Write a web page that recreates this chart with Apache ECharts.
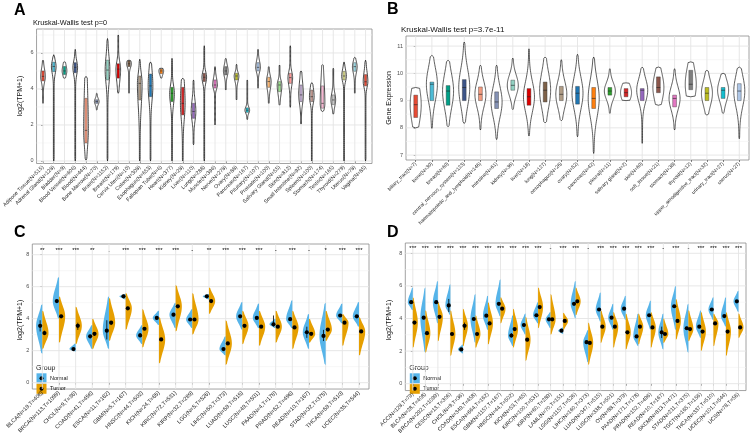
<!DOCTYPE html>
<html><head><meta charset="utf-8">
<script src="https://cdn.jsdelivr.net/npm/echarts@6/dist/echarts.min.js"></script>
<style>html,body{margin:0;padding:0;background:#fff}#c{width:751px;height:436px}</style>
</head><body><div id="c"></div><script>
// ---------------- DATA ----------------
const catA = ["Adipose Tissue(N=515)","Adrenal Gland(N=128)","Bladder(N=9)","Blood Vessel(N=606)","Blood(N=444)","Bone Marrow(N=70)","Brain(N=1152)","Breast(N=179)","Cervix Uteri(N=10)","Colon(N=308)","Esophagus(N=653)","Fallopian Tube(N=6)","Heart(N=377)","Kidney(N=28)","Liver(N=110)","Lung(N=288)","Muscle(N=396)","Nerve(N=278)","Ovary(N=88)","Pancreas(N=167)","Pituitary(N=107)","Prostate(N=100)","Salivary Gland(N=55)","Skin(N=812)","Small Intestine(N=92)","Spleen(N=100)","Stomach(N=174)","Testis(N=165)","Thyroid(N=279)","Uterus(N=78)","Vagina(N=85)"];
// [min, q1, median, q3, max]
const statsA = [[3.2,4.45,4.7,5.0,5.6],[0,4.96,5.25,5.49,5.9],[4.6,4.8,5.0,5.25,5.5],[0,4.9,5.2,5.46,6.2],[0.05,1.0,1.7,3.48,4.7],[2.83,3.2,3.3,3.4,3.76],[0,4.5,5.05,5.6,6.8],[3.76,4.6,5.1,5.4,7.0],[3.76,5.24,5.4,5.56,5.6],[0,3.39,4.31,4.72,5.65],[0,3.57,4.17,4.83,5.5],[4.6,4.85,5.0,5.1,5.15],[0,3.3,3.76,4.09,5.7],[0,2.56,3.2,4.09,4.6],[0.9,2.37,2.75,3.2,4.5],[0,4.41,4.65,4.87,6.4],[2.0,4.05,4.22,4.5,5.24],[3.94,4.78,5.0,5.24,5.7],[3.39,4.5,4.72,4.87,5.37],[2.3,2.7,2.82,2.95,4.5],[4.04,5.0,5.2,5.46,6.2],[3.2,4.09,4.41,4.65,5.24],[3.1,3.85,4.22,4.41,5.33],[2.98,4.31,4.63,4.87,6.4],[2.05,3.3,3.67,4.22,5.0],[0,3.3,3.57,3.94,4.35],[2.75,2.93,3.2,4.17,5.35],[2.6,3.13,3.39,3.67,5.15],[0,4.5,4.72,4.98,5.5],[3.76,4.98,5.24,5.46,5.76],[0,4.17,4.4,4.8,5.6]];
const ticksA = [0,2,4,6];
const minorA = [1,3,5,7];

const catB = ["biliary_tract(N=7)","bone(N=30)","breast(N=60)","central_nervous_system(N=123)","haematopoietic_and_lymphoid(N=146)","intestine(N=61)","kidney(N=36)","liver(N=18)","lung(N=127)","oesophagus(N=26)","ovary(N=52)","pancreas(N=42)","pleura(N=11)","salivary gland(N=2)","skin(N=60)","soft_tissue(N=21)","stomach(N=38)","thyroid(N=12)","upper_aerodigestive_tract(N=32)","urinary_tract(N=27)","uterus(N=27)"];
const statsB = [[8.0,8.38,8.85,9.2,9.48],[7.98,9.0,9.6,9.68,10.66],[8.04,8.83,9.35,9.55,10.48],[8.16,9.0,9.48,9.77,11.15],[7.92,9.0,9.23,9.5,10.3],[7.57,8.71,8.95,9.32,10.3],[8.67,9.38,9.56,9.75,10.56],[7.7,8.83,9.14,9.44,10.9],[8.18,8.95,9.38,9.68,10.6],[8.26,9.0,9.23,9.52,10.5],[7.67,8.87,9.27,9.52,10.7],[7.06,8.71,9.08,9.48,10.6],[8.53,9.2,9.35,9.48,10.17],[9.0,9.14,9.29,9.44,9.65],[7.43,9.0,9.38,9.44,10.23],[8.83,9.29,9.48,9.87,10.23],[7.92,8.77,9.08,9.2,10.17],[9.14,9.4,9.6,10.11,10.42],[8.47,9.0,9.27,9.48,10.11],[8.53,9.08,9.38,9.48,10.0],[7.6,9.0,9.35,9.62,10.23]];
const ticksB = [7,8,9,10,11];
const minorB = [7.5,8.5,9.5,10.5];

const catC = ["BLCA(N=19,T=408)","BRCA(N=113,T=1099)","CHOL(N=9,T=36)","COAD(N=41,T=458)","ESCA(N=11,T=162)","GBM(N=5,T=167)","HNSC(N=44,T=502)","KICH(N=24,T=65)","KIRC(N=72,T=531)","KIRP(N=32,T=289)","LGG(N=5,T=526)","LIHC(N=50,T=373)","LUAD(N=59,T=515)","LUSC(N=49,T=501)","PAAD(N=4,T=178)","PRAD(N=52,T=496)","READ(N=10,T=167)","STAD(N=32,T=375)","THCA(N=59,T=510)","UCEC(N=35,T=544)"];
// [min, low, median, high, max]
const normalC = [[1.8,3.2,3.55,3.9,4.9],[4.0,5.0,5.1,5.2,6.6],[1.95,2.05,2.1,2.15,2.45],[2.1,2.75,2.9,3.0,3.6],[2.1,2.7,3.25,3.9,5.4],[5.2,5.3,5.4,5.5,5.55],[2.4,2.85,2.95,3.1,3.6],[3.6,3.95,4.05,4.1,4.5],[3.4,4.15,4.25,4.35,5.0],[3.4,3.9,3.95,4.0,4.6],[5.2,5.35,5.4,5.45,5.55],[1.7,2.05,2.1,2.15,2.9],[3.3,4.1,4.15,4.2,5.05],[3.4,4.0,4.05,4.1,4.95],[3.4,3.5,3.65,4.2,4.0],[3.4,3.9,3.97,4.05,5.15],[2.1,2.8,3.15,3.5,4.3],[1.1,2.6,2.92,3.3,5.0],[3.7,4.15,4.2,4.25,4.95],[3.5,4.1,4.15,4.2,5.05]];
const tumorC = [[2.1,3.0,3.1,3.25,4.5],[2.5,4.05,4.15,4.25,5.4],[2.4,3.3,3.55,3.75,4.75],[2.1,2.95,3.05,3.15,4.0],[2.6,3.6,3.75,3.85,5.3],[3.3,4.55,4.65,4.75,5.6],[2.2,3.3,3.37,3.45,4.6],[1.2,2.6,2.7,2.8,4.1],[3.2,4.7,4.77,4.85,6.1],[3.0,3.9,3.95,4.0,5.6],[4.3,5.0,5.1,5.2,5.95],[1.1,2.4,2.45,2.5,3.9],[2.4,3.5,3.55,3.6,4.5],[2.3,3.45,3.5,3.55,4.5],[2.5,3.45,3.5,3.55,4.5],[2.1,3.4,3.45,3.5,4.5],[2.5,3.0,3.05,3.1,4.0],[2.6,3.25,3.32,3.4,4.5],[2.3,3.7,3.75,3.8,4.3],[1.7,3.15,3.2,3.25,4.1]];
const sigC = ["**","***","***","**",".","***","***","***","***","-","**","***","***","***","-","***","-","*","***","***"];
const ticksC = [0,2,4,6,8];
const minorC = [1,3,5,7];

const catD = ["ACC(N=128,T=79)","BLCA(N=28,T=408)","BRCA(N=292,T=1099)","CESC(N=13,T=306)","CHOL(N=9,T=36)","COAD(N=349,T=458)","ESCA(N=664,T=162)","GBM(N=1157,T=167)","HNSC(N=44,T=502)","KICH(N=53,T=65)","KIRC(N=100,T=531)","KIRP(N=60,T=289)","LAML(N=70,T=151)","LGG(N=1157,T=526)","LIHC(N=160,T=373)","LUAD(N=347,T=515)","LUSC(N=338,T=501)","OV(N=88,T=379)","PAAD(N=171,T=178)","PRAD(N=152,T=496)","READ(N=10,T=167)","SKCM(N=813,T=471)","STAD(N=211,T=375)","TGCT(N=165,T=156)","THCA(N=337,T=510)","UCEC(N=101,T=544)","UCS(N=78,T=56)"];
const normalD = [[4.5,4.9,5.0,5.1,5.9],[1.9,3.95,4.05,4.15,5.9],[3.7,4.9,5.0,5.1,6.3],[4.2,4.4,4.8,5.2,6.1],[1.85,2.05,2.1,2.15,2.4],[2.5,3.9,3.97,4.05,5.5],[3.3,4.1,4.17,4.25,5.4],[4.1,4.85,4.9,4.95,6.4],[2.3,2.85,2.95,3.1,4.2],[3.0,3.5,3.6,3.7,4.3],[3.7,4.15,4.2,4.25,5.0],[3.4,3.9,3.95,4.0,4.4],[3.05,3.2,3.25,3.3,3.45],[4.0,4.85,4.9,4.95,6.3],[1.3,2.5,2.55,2.6,3.3],[3.8,4.5,4.55,4.6,5.6],[3.3,4.0,4.05,4.1,4.9],[3.9,4.55,4.6,4.65,5.4],[2.3,2.85,2.9,2.95,4.3],[3.3,4.15,4.2,4.25,5.1],[2.1,2.8,3.15,3.5,4.3],[3.3,4.7,4.75,4.8,6.0],[1.9,3.3,3.4,3.5,4.9],[2.8,3.45,3.5,3.55,4.5],[3.9,4.5,4.55,4.6,5.3],[3.5,4.1,4.15,4.2,5.3],[4.4,5.0,5.05,5.1,5.7]];
const tumorD = [[2.2,3.65,3.75,3.85,5.3],[1.9,3.0,3.1,3.2,4.5],[2.6,4.0,4.1,4.2,5.0],[1.7,2.95,3.05,3.15,4.5],[2.3,3.3,3.55,3.75,4.6],[2.2,2.95,3.05,3.15,4.2],[2.4,3.6,3.7,3.8,5.0],[3.7,4.55,4.6,4.65,5.3],[2.2,3.3,3.35,3.4,4.6],[1.4,2.6,2.7,2.8,4.1],[3.4,4.65,4.7,4.75,5.9],[3.0,3.9,3.95,4.0,5.5],[3.3,3.8,3.85,3.9,4.35],[4.2,5.0,5.05,5.1,5.9],[1.15,2.45,2.5,2.55,3.75],[2.5,3.45,3.5,3.55,4.5],[2.2,3.45,3.5,3.55,4.4],[2.1,3.1,3.15,3.2,4.3],[2.4,3.45,3.5,3.55,4.3],[2.2,3.4,3.45,3.5,4.4],[2.5,3.0,3.05,3.1,4.0],[2.7,3.8,3.85,3.9,5.2],[2.6,3.3,3.35,3.4,4.5],[2.0,3.15,3.2,3.25,4.4],[2.3,3.65,3.7,3.75,4.3],[1.7,3.15,3.2,3.25,4.4],[2.8,3.4,3.45,3.5,4.3]];
const sigD = ["***","***","***","***","***","***","***","***","***","***","***","-","***","***","-","***","***","***","***","***","-","***","-","***","***","***","***"];
const ticksD = [0,2,4,6,8];
const minorD = [1,3,5,7];

// ---------------- STYLE ----------------
const FONT = '"Liberation Sans", Arial, Helvetica, sans-serif';
const PAL = ['#E64B35','#4DBBD5','#00A087','#3C5488','#F39B7F','#8491B4','#91D1C2','#DC0000','#7E6148','#B09C85','#1F77B4','#FF7F0E','#2CA02C','#D62728','#9467BD','#8C564B','#E377C2','#7F7F7F','#BCBD22','#17BECF','#AEC7E8','#FFBB78','#98DF8A','#FF9896','#C5B0D5','#C49C94','#F7B6D2','#C7C7C7','#DBDB8D','#9EDAE5','#E64B35'];
const BLUE = '#56B4E9', ORANGE = '#E69F00';
const STAR_Y = 8.3;

function widthAt(y, mn, md, mx, sU, sD, amp, tail) {
  const s = y >= md ? sU : sD;
  const t = (y - md) / s;
  return amp * Math.exp(-0.5 * t * t) + tail;
}
function side(api, i, mn, md, mx, sU, sD, amp, tail, dir) {
  const pts = [], N = 48;
  for (let k = 0; k <= N; k++) {
    const y = mn + (mx - mn) * k / N;
    const p = api.coord([i, y]);
    const w = (k === 0 || k === N) ? 0 : widthAt(y, mn, md, mx, sU, sD, amp, tail);
    pts.push([p[0] + dir * w, p[1]]);
  }
  return pts;
}
function bgSeries(gi, n, major, minor) {
  return {type:'custom', xAxisIndex:gi, yAxisIndex:gi, z:1, silent:true, data:[[0, major[0]]],
    renderItem(params, api) {
      const cs = params.coordSys, ch = [];
      minor.forEach(v => { const y = api.coord([0, v])[1];
        ch.push({type:'line', shape:{x1:cs.x, y1:y, x2:cs.x+cs.width, y2:y}, style:{stroke:'#F2F2F2', lineWidth:0.6}}); });
      major.forEach(v => { const y = api.coord([0, v])[1];
        ch.push({type:'line', shape:{x1:cs.x, y1:y, x2:cs.x+cs.width, y2:y}, style:{stroke:'#E4E4E4', lineWidth:0.9}}); });
      for (let i = 0; i < n; i++) { const x = api.coord([i, major[0]])[0];
        ch.push({type:'line', shape:{x1:x, y1:cs.y, x2:x, y2:cs.y+cs.height}, style:{stroke:'#E4E4E4', lineWidth:0.9}}); }
      return {type:'group', children:ch};
    }};
}
function fullViolin(gi, stats, mode) {
  return {type:'custom', xAxisIndex:gi, yAxisIndex:gi, z:3, silent:true,
    data: stats.map((s, i) => [i, s[2]]),
    renderItem(params, api) {
      const i = params.dataIndex, [mn, q1, md, q3, mx] = stats[i];
      let sU, sD, amp, tail, bw, lw;
      if (mode === 'A') { sU = Math.max((q3-md)*1.3, 0.16); sD = Math.max((md-q1)*1.3, 0.16); amp = 2.0; tail = 0.35; bw = 2.4; lw = 0.8; }
      else { sU = sD = (q3-q1)*0.75 + 0.1; amp = 5.2; tail = 0.3; bw = 3.8; lw = 0.7; }
      const R = side(api, i, mn, md, mx, sU, sD, amp, tail, 1);
      const L = side(api, i, mn, md, mx, sU, sD, amp, tail, -1).reverse();
      const c = api.coord([i, md]), t = api.coord([i, q3]), b = api.coord([i, q1]);
      return {type:'group', children:[
        {type:'polygon', shape:{points:R.concat(L)}, style:{fill:'#fff', stroke:'#1a1a1a', lineWidth:lw}},
        {type:'rect', shape:{x:c[0]-bw/2, y:t[1], width:bw, height:Math.max(b[1]-t[1], 0.8)}, style:{fill:PAL[i], stroke:'#333', lineWidth:0.4}},
        {type:'line', shape:{x1:c[0]-bw/2, y1:c[1], x2:c[0]+bw/2, y2:c[1]}, style:{stroke:'#222', lineWidth:0.6}}
      ]};
    }};
}
function splitViolin(gi, normal, tumor, sig, amp) {
  return {type:'custom', xAxisIndex:gi, yAxisIndex:gi, z:3, silent:true,
    data: normal.map((s, i) => [i, s[2]]),
    renderItem(params, api) {
      const i = params.dataIndex, ch = [], sp = api.size([1, 0])[0];
      const parts = [[normal[i], -1, BLUE], [tumor[i], 1, ORANGE]];
      parts.forEach(([s, dir, col]) => {
        const [mn, lo, md, hi, mx] = s;
        const sU = Math.max((mx-md)/1.9, 0.06), sD = Math.max((md-mn)/1.9, 0.06);
        ch.push({type:'polygon', shape:{points: side(api, i, mn, md, mx, sU, sD, amp, 0, dir)}, style:{fill:col}});
      });
      parts.forEach(([s, dir]) => {
        const [mn, lo, md, hi, mx] = s;
        const c = api.coord([i, md]), a = api.coord([i, lo]), b = api.coord([i, hi]);
        const x = c[0] + dir * 0.13 * sp;
        ch.push({type:'line', shape:{x1:x, y1:a[1], x2:x, y2:b[1]}, style:{stroke:'#000', lineWidth:0.8}});
        ch.push({type:'circle', shape:{cx:x, cy:c[1], r:2.1}, style:{fill:'#000'}});
      });
      const sp0 = api.coord([i, STAR_Y]);
      ch.push({type:'text', x:sp0[0], y:sp0[1], style:{text:sig[i], fill:'#000', fontSize:6, fontFamily:FONT, align:'center', verticalAlign:'middle'}});
      return {type:'group', children:ch};
    }};
}
function xAxis(gi, cats, fs) {
  const idx = cats.map((_, i) => i);
  return {type:'value', gridIndex:gi, min:-0.6, max:cats.length-0.4, axisLine:{show:false}, splitLine:{show:false},
    axisTick:{show:true, customValues:idx, length:2, lineStyle:{color:'#333', width:0.6}},
    axisLabel:{customValues:idx, formatter:v => cats[Math.round(v)] || '', rotate:45, fontSize:fs, color:'#222', margin:3, fontFamily:FONT}};
}
function yAxis(gi, mn, mx, ticks) {
  return {type:'value', gridIndex:gi, min:mn, max:mx, axisLine:{show:false}, splitLine:{show:false},
    axisTick:{show:true, customValues:ticks, length:2, lineStyle:{color:'#333', width:0.6}},
    axisLabel:{customValues:ticks, fontSize:5.5, color:'#4d4d4d', margin:3, fontFamily:FONT}};
}
const gridStyle = {show:true, backgroundColor:'#fff', borderColor:'#8c8c8c', borderWidth:0.8};

function txt(x, y, s, fs, opts) {
  return Object.assign({type:'text', x:x, y:y, silent:true, style:Object.assign({text:s, fontSize:fs, fontFamily:FONT, fill:'#111', align:'left', verticalAlign:'middle'}, (opts||{}).style||{})}, (opts||{}).el||{});
}
function legend(x0) {
  return [
    txt(x0, 367.7, 'Group', 7, {}),
    {type:'rect', shape:{x:x0+0.5, y:373.3, width:10, height:10}, style:{fill:BLUE}, silent:true},
    {type:'circle', shape:{cx:x0+5.5, cy:378.3, r:2}, style:{fill:'#000'}, silent:true},
    {type:'rect', shape:{x:x0+0.5, y:383.8, width:10, height:10}, style:{fill:ORANGE}, silent:true},
    {type:'circle', shape:{cx:x0+5.5, cy:388.8, r:2}, style:{fill:'#000'}, silent:true},
    txt(x0+14, 378.3, 'Normal', 5.5, {}),
    txt(x0+14, 388.8, 'Tumor', 5.5, {})
  ];
}

const chart = echarts.init(document.getElementById('c'), null, {renderer:'canvas'});
chart.setOption({
  animation:false,
  backgroundColor:'#fff',
  grid:[
    Object.assign({left:32, top:29, width:340, height:134.5}, gridStyle),
    Object.assign({left:406, top:36, width:343, height:124}, gridStyle),
    Object.assign({left:32.3, top:244, width:336.7, height:152.7}, gridStyle),
    Object.assign({left:405.3, top:243, width:340.7, height:153.5}, gridStyle)
  ],
  xAxis:[xAxis(0, catA, 5.3), xAxis(1, catB, 5), xAxis(2, catC, 5.6), xAxis(3, catD, 5.4)],
  yAxis:[yAxis(0, -0.14, 7.33, ticksA), yAxis(1, 6.82, 11.37, ticksB), yAxis(2, -0.4, 8.67, ticksC), yAxis(3, -0.42, 8.63, ticksD)],
  series:[
    bgSeries(0, catA.length, ticksA, minorA),
    bgSeries(1, catB.length, ticksB, minorB),
    bgSeries(2, catC.length, ticksC, minorC),
    bgSeries(3, catD.length, ticksD, minorD),
    fullViolin(0, statsA, 'A'),
    fullViolin(1, statsB, 'B'),
    splitViolin(2, normalC, tumorC, sigC, 6.2),
    splitViolin(3, normalD, tumorD, sigD, 5.0)
  ],
  graphic:[
    txt(14, 10.5, 'A', 16, {style:{fontWeight:'bold', fill:'#000'}}),
    txt(387, 9.5, 'B', 16, {style:{fontWeight:'bold', fill:'#000'}}),
    txt(14, 232.5, 'C', 16, {style:{fontWeight:'bold', fill:'#000'}}),
    txt(387, 232.5, 'D', 16, {style:{fontWeight:'bold', fill:'#000'}}),
    txt(33, 22.5, 'Kruskal-Wallis test p=0', 7.3, {}),
    txt(401, 30, 'Kruskal-Wallis test p=3.7e-11', 8, {}),
    txt(20.5, 96, 'log2(TPM+1)', 7, {el:{rotation:Math.PI/2}, style:{align:'center'}}),
    txt(389, 98, 'Gene Expression', 7, {el:{rotation:Math.PI/2}, style:{align:'center'}}),
    txt(20.5, 320, 'log2(TPM+1)', 7, {el:{rotation:Math.PI/2}, style:{align:'center'}}),
    txt(389, 320, 'log2(TPM+1)', 7, {el:{rotation:Math.PI/2}, style:{align:'center'}})
  ].concat(legend(36), legend(409.3))
});
</script></body></html>
